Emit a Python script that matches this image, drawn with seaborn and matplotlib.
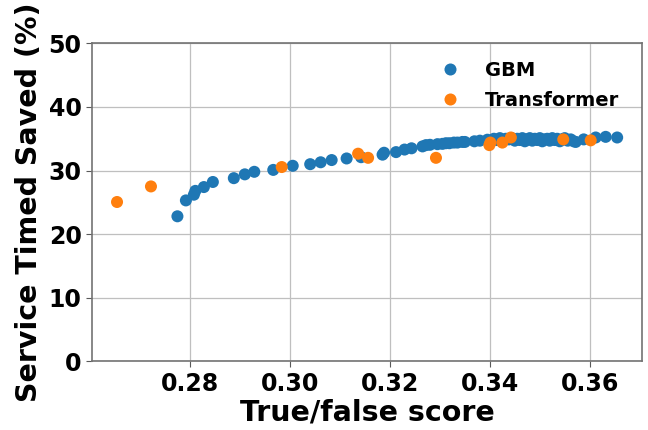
import matplotlib
matplotlib.use("Agg")
import matplotlib.pyplot as plt
import seaborn as sns
import pandas as pd

# GBM operating points: true/false score vs. service time saved (%)
gbm_score = [
    0.2774, 0.2791, 0.2807, 0.2810, 0.2827, 0.2845, 0.2887, 0.2909, 0.2928,
    0.2966, 0.3005, 0.3040, 0.3061, 0.3083, 0.3113, 0.3142, 0.3185, 0.3188,
    0.3212, 0.3229, 0.3243, 0.3265, 0.3272, 0.3280, 0.3295, 0.3305, 0.3312,
    0.3319, 0.3328, 0.3335, 0.3345, 0.3350, 0.3369, 0.3380, 0.3395, 0.3402,
    0.3408, 0.3414, 0.3420, 0.3426, 0.3432, 0.3438, 0.3444, 0.3450, 0.3455,
    0.3460, 0.3465, 0.3470, 0.3475, 0.3480, 0.3485, 0.3490, 0.3495, 0.3500,
    0.3505, 0.3510, 0.3515, 0.3520, 0.3525, 0.3530, 0.3535, 0.3540, 0.3545,
    0.3550, 0.3556, 0.3562, 0.3568, 0.3572, 0.3588, 0.3612, 0.3632, 0.3655,
]
gbm_saved = [
    22.8, 25.3, 26.2, 26.8, 27.4, 28.2, 28.8, 29.4, 29.8,
    30.1, 30.75, 31.0, 31.3, 31.65, 31.9, 32.1, 32.5, 32.8,
    32.9, 33.3, 33.5, 33.8, 34.0, 34.05, 34.15, 34.2, 34.3,
    34.3, 34.4, 34.4, 34.5, 34.5, 34.6, 34.7, 34.85, 34.7,
    35.0, 34.8, 35.1, 34.7, 35.0, 34.9, 35.1, 34.7, 35.0,
    34.8, 35.1, 34.6, 34.9, 35.1, 34.7, 35.0, 34.8, 35.1,
    34.6, 34.9, 35.0, 34.7, 35.1, 34.8, 35.0, 34.6, 34.9,
    35.1, 34.7, 34.9, 34.6, 34.5, 34.9, 35.2, 35.3, 35.2,
]

# Transformer operating points
tr_score = [0.2653, 0.2721, 0.2983, 0.3136, 0.3156, 0.3292,
            0.3399, 0.3401, 0.3425, 0.3442, 0.3547, 0.3602]
tr_saved = [25.05, 27.5, 30.55, 32.65, 32.0, 32.0,
            34.0, 34.4, 34.4, 35.2, 34.9, 34.75]

model_names = ["GBM", "Transformer"]
y_ticks = [0, 10, 20, 30, 40, 50]
x_ticks = [0.28, 0.30, 0.32, 0.34, 0.36]

df = pd.DataFrame({
    "score": gbm_score + tr_score,
    "saved": gbm_saved + tr_saved,
    "model": [model_names[0]] * len(gbm_score) + [model_names[1]] * len(tr_score),
})

sns.set_style("white")
plt.rcParams["font.family"] = ["DejaVu Sans"]
plt.rcParams["font.weight"] = "bold"
plt.rcParams["text.color"] = "black"
plt.rcParams["axes.labelcolor"] = "black"

fig = plt.figure(figsize=(6.48, 4.30), dpi=100)
ax = fig.add_axes([0.142, 0.160, 0.849, 0.739])
ax.set_axisbelow(True)
ax.grid(True, color="0.75", linewidth=0.9)

sns.scatterplot(data=df, x="score", y="saved", hue="model",
                palette=["#1f77b4", "#ff7f0e"], s=75, linewidth=0,
                ax=ax, zorder=3)

ax.set_ylim(0, 50)
ax.set_yticks(y_ticks)
ax.set_xticks(x_ticks)
ax.set_xlabel("True/false score", fontsize=20.5, fontweight="bold", labelpad=2)
ax.set_ylabel("Service Timed Saved (%)", fontsize=20.5, fontweight="bold", labelpad=4)
ax.tick_params(axis="both", labelsize=17, length=4, color="0.35",
               labelcolor="black", direction="out", bottom=True, left=True)
for lbl in ax.get_xticklabels() + ax.get_yticklabels():
    lbl.set_fontweight("bold")
for sp in ax.spines.values():
    sp.set_color("0.45")
    sp.set_linewidth(1.2)

leg = ax.legend(loc="upper right", bbox_to_anchor=(0.99, 1.0), frameon=False,
                prop={"size": 14, "weight": "bold"}, handletextpad=0.8,
                labelspacing=0.55)

fig.savefig("out.png", dpi=100)
